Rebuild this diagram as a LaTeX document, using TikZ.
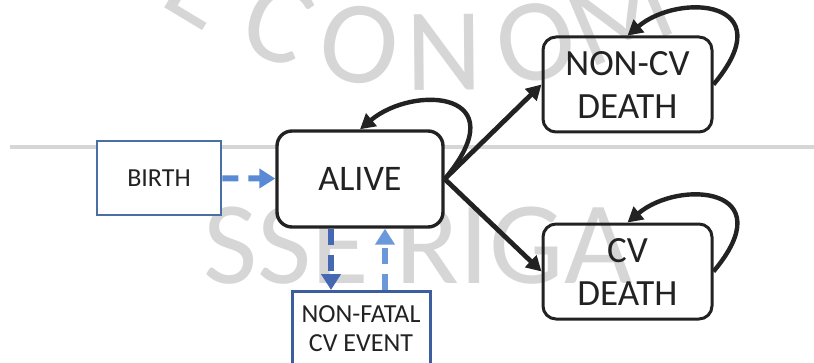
\documentclass[tikz,border=0pt]{standalone}
\usepackage{fontspec}
\setmainfont{Carlito}
\usetikzlibrary{arrows.meta}

\definecolor{inkgray}{HTML}{222222}
\definecolor{birthblue}{HTML}{4A6FA5}
\definecolor{eventblue}{HTML}{3C5E9E}
\definecolor{arrowblue}{HTML}{5B8AD4}
\definecolor{downblue}{HTML}{4468B2}
\definecolor{upblue}{HTML}{6A98DA}
\definecolor{wmgray}{HTML}{D6D6D6}

\begin{document}
\begin{tikzpicture}[x=1pt, y=1pt,
  wmark/.style={text=wmgray, inner sep=0pt, font=\fontsize{118}{118}\selectfont},
  state/.style={draw=inkgray, line width=3pt, rounded corners=13pt, text=inkgray,
    minimum width=169pt, minimum height=95pt, align=center,
    font=\fontsize{37}{43}\selectfont},
  entrybox/.style={draw=#1, line width=2.6pt, fill=white, text=inkgray, align=center},
  move/.style={draw=inkgray, line width=4.8pt, -{Triangle[length=15pt,width=16pt]}},
  selfloop/.style={move, line width=4.4pt},
  flow/.style={draw=#1, line width=6pt, dash pattern=on 16pt off 10pt,
    -{Triangle[length=16pt,width=19pt]}}]
  \useasboundingbox (0, 0) rectangle (814, 362);

  % watermark
  \draw[wmgray, line width=4pt] (10, 215) -- (814, 215);
  \foreach \ch/\ang [count=\k] in {E/-31,C/-20.5,O/-10,N/0.5,O/12,M/23}
    \node[wmark, anchor=base, rotate=\ang] (econ\k) at ([shift={(\ang-90:500)}]440,772) {\ch};
  \node[wmark, anchor=base west] (sseriga) at (203, 79) {SSE RIGA};

  % states
  \node[entrybox=birthblue, minimum width=124pt, minimum height=74pt,
    font=\fontsize{26}{30}\selectfont] (birth) at (159, 184) {BIRTH};
  \node[state, fill=white, minimum width=166pt, minimum height=96pt, rounded corners=15pt,
    line width=3.4pt, font=\fontsize{36}{40}\selectfont] (alive) at (360, 183) {ALIVE};
  \node[state] (noncv) at (627.5, 277.5) {NON-CV\\DEATH};
  \node[state] (cv) at (627.5, 90.5) {CV\\DEATH};
  \node[entrybox=eventblue, line width=3pt, anchor=north, minimum width=138pt,
    minimum height=74pt, font=\fontsize{26}{29}\selectfont] (event) at (361, 72)
    {NON-FATAL\\CV EVENT};

  % transitions
  \draw[flow=arrowblue] (birth) -- (alive);
  \draw[flow=downblue] ([xshift=-29pt]alive.south) -- ([xshift=-30pt]event.north);
  \draw[flow=upblue] ([xshift=24pt]event.north) -- ([xshift=25pt]alive.south);
  \draw[move] (alive.east) -- (noncv.west);
  \draw[move] (alive.east) -- (cv.west);
  \draw[selfloop] (alive.east) .. controls +(50:115) and +(40:70) .. (alive.north);
  \draw[selfloop] (noncv.east) .. controls +(50:110) and +(40:68) .. (noncv.north);
  \draw[selfloop] (cv.east) .. controls +(50:110) and +(40:68) .. (cv.north);
\end{tikzpicture}
\end{document}
